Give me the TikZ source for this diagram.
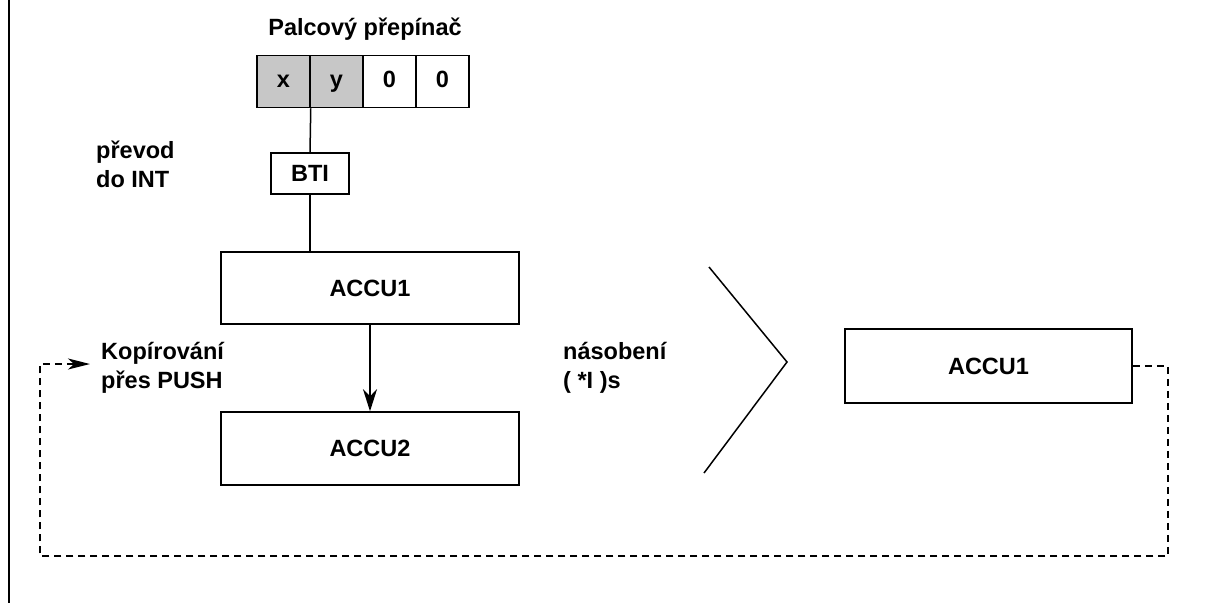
\documentclass[tikz,border=0pt]{standalone}
\usepackage{fontspec}
\setmainfont{Liberation Sans}
\usetikzlibrary{arrows.meta}
\begin{document}
\begin{tikzpicture}[x=1pt,y=-1pt,
  every node/.style={font=\fontsize{23.5}{29}\selectfont\bfseries, inner sep=0pt},
  box/.style={draw, line width=1.5pt, rectangle, minimum height=#1},
  box/.default=74pt,
  cell/.style={draw, line width=1.5pt, rectangle, minimum width=53pt, minimum height=52pt,
    text height=17pt, text depth=5pt},
  shaded/.style={cell, fill=black!22},
  label/.style={anchor=north west, align=left},
  wire/.style={line width=1.5pt},
  dashline/.style={line width=1.6pt, dash pattern=on 7pt off 5pt}
]
\useasboundingbox (0,0) rectangle (1230,603);
\fill[white] (0,0) rectangle (1230,603);

% frame edge on the left
\draw[line width=2.2pt] (9,0) -- (9,603);

% thumbwheel switch
\node[anchor=base] (title) at (365,35) {Palcový přepínač};
\node[shaded] (sx) at (283.5,81.5) {x};
\node[shaded] (sy) at (336.5,81.5) {y};
\node[cell]   (s0a) at (389.5,81.5) {0};
\node[cell]   (s0b) at (442.5,81.5) {0};

% conversion block
\node[box=41pt, minimum width=78pt] (bti) at (310,173.5) {BTI};
\node[label] (conv) at (96,141) {převod\\do INT};

% accumulators
\node[box=72pt, minimum width=298pt] (acc1a) at (370,288) {ACCU1};
\node[box=73pt, minimum width=298pt] (acc2) at (370,448.5) {ACCU2};
\node[box=74pt, minimum width=287pt] (acc1b) at (988.5,366) {ACCU1};

\draw[wire] (sx.south east) -- (bti.north);
\draw[wire] (bti.south) -- (bti.south |- acc1a.north);
\draw[wire, -{Stealth[length=22pt, width=14pt, inset=7pt]}] (acc2.north |- acc1a.south) -- (acc2.north);

% multiplication
\node[label] (mul) at (563,342) {násobení\\( *I )s};
\coordinate (chTop) at (709,267);
\coordinate (chTip) at (787,362);
\coordinate (chBot) at (704,473);
\draw[wire] (chTop) -- (chTip) -- (chBot);

% copy via PUSH
\node[label] (push) at (101,342) {Kopírování\\přes PUSH};
\coordinate (rc) at (1168,366);
\coordinate (lc) at (40,556);
\coordinate (tip) at (90,364);
\draw[dashline, -{Stealth[length=22pt, width=11pt, inset=6pt]}]
  (acc1b.east) -- (rc) |- (lc) |- (tip);
\end{tikzpicture}
\end{document}
